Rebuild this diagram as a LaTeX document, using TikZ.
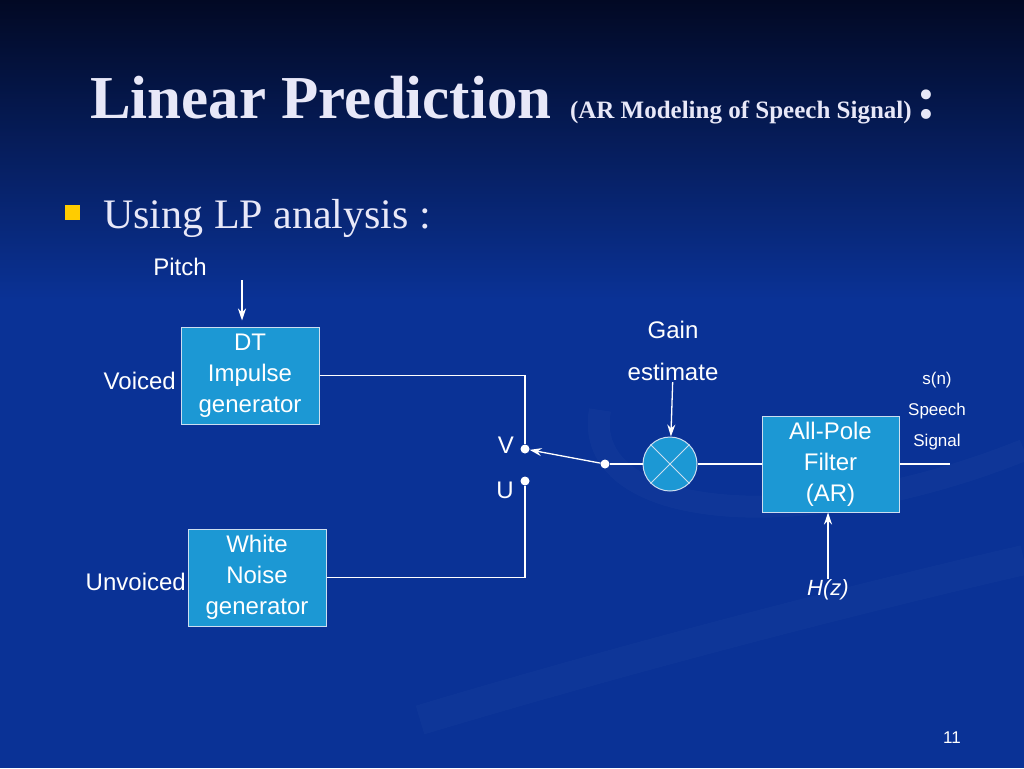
\documentclass[tikz,border=0pt]{standalone}
\usepackage{fontspec}
\setmainfont{Liberation Serif}
\setsansfont{Liberation Sans}
\usetikzlibrary{positioning,arrows.meta}

\definecolor{slidetop}{RGB}{2,9,36}
\definecolor{slidebody}{RGB}{10,50,150}
\definecolor{boxfill}{RGB}{28,152,212}
\definecolor{boxline}{RGB}{205,222,240}
\definecolor{titlecol}{RGB}{232,232,248}
\definecolor{bulletcol}{RGB}{255,204,0}

\begin{document}
\begin{tikzpicture}[x=1pt,y=-1pt,
					block/.style={draw=boxline,fill=boxfill,line width=1pt,
					              minimum width=138pt,minimum height=97pt,
					              inner sep=0pt,align=center,text=white,
					              font=\sffamily\fontsize{24}{31}\selectfont,
					              execute at begin node={\vspace*{8pt}}},
					label text/.style={text=white,inner sep=1pt,
					              font=\sffamily\fontsize{24}{31}\selectfont},
					small text/.style={text=white,inner sep=1pt,
					              font=\sffamily\fontsize{17}{20}\selectfont},
					wire/.style={draw=white,line width=1.3pt},
					sig/.style={wire,-{Stealth[length=12pt,width=8pt]}},
					dot/.style={circle,fill=white,inner sep=0pt,minimum size=9pt}]

  % slide background
  \useasboundingbox (0,0) rectangle (1024,768);
  \fill[top color=slidetop,bottom color=slidebody] (0,0) rectangle (1024,300);
  \fill[slidebody] (0,300) rectangle (1024,768);
  \draw[white,opacity=0.025,line width=22pt]
    (600,410) .. controls (580,520) and (800,540) .. (1024,450);
  \draw[white,opacity=0.02,line width=30pt]
    (420,720) .. controls (620,660) and (850,600) .. (1024,560);

  % title
  \node[anchor=base west,inner sep=0pt,text=titlecol,
        font=\bfseries\fontsize{61}{61}\selectfont] (title) at (90,118) {Linear Prediction};
  \node[anchor=base west,inner sep=0pt,text=titlecol,
        font=\bfseries\fontsize{25}{25}\selectfont] (subtitle)
        at ([xshift=18pt]title.base east) {(AR Modeling of Speech Signal)};
  \node[anchor=base west,inner sep=0pt,text=titlecol,
        font=\bfseries\fontsize{61}{61}\selectfont] (colon)
        at ([xshift=4pt]subtitle.base east) {:};

  \node[fill=bulletcol,minimum size=15pt,inner sep=0pt] (bullet) at (72.5,212.5) {};
  \node[anchor=base west,inner sep=0pt,text=titlecol,
        font=\fontsize{42}{42}\selectfont] (using) at (103,228) {Using LP analysis :};

  % blocks
  \node[block] (dt) at (250,375.5) {DT\\Impulse\\generator};
  \node[block] (wn) at (257,577.5) {White\\Noise\\generator};
  \node[block,minimum width=137pt,minimum height=96pt] (ap) at (830.5,464) {All-Pole\\Filter\\(AR)};
  \node[circle,draw=boxline,fill=boxfill,line width=1pt,minimum size=54pt] (mul) at (670,464) {};
  \draw[boxline,line width=1pt] (mul.45) -- (mul.225) (mul.135) -- (mul.-45);

  % labels
  \node[label text] (pitch) at (180,267) {Pitch};
  \node[label text,anchor=east] (voiced) at (177,381) {Voiced};
  \node[label text,anchor=east] (unvoiced) at (187,582) {Unvoiced};
  \node[label text] (gain) at (673,330) {Gain};
  \node[label text] (estimate) at (673,372) {estimate};
  \node[small text] (sn) at (937,380) {s(n)};
  \node[small text] (speech) at (937,411) {Speech};
  \node[small text] (signal) at (937,442) {Signal};
  \node[label text,font=\sffamily\itshape\fontsize{22}{26}\selectfont] (hz) at (828,590) {H(z)};
  \node[small text] (page) at (952,738) {11};

  % switch
  \node[dot] (vdot) at (525,449) {};
  \node[dot] (udot) at (525,481) {};
  \node[dot] (sw) at (605,464) {};
  \node[label text,anchor=east] (vlab) at (515,445) {V};
  \node[label text,anchor=east] (ulab) at (515,490) {U};
  \coordinate (pitchin) at (242,280);
  \coordinate (out) at (950,464);

  % connectors
  \draw[sig,shorten >=6pt] (pitchin) -- (pitchin |- dt.north);
  \draw[wire] (dt.east) -| (vdot);
  \draw[wire] (wn.east) -| (udot);
  \draw[sig] (sw) -- (vdot);
  \draw[wire] (sw) -- (mul);
  \draw[sig] (estimate) -- (mul);
  \draw[wire] (mul) -- (ap);
  \draw[wire] (ap) -- (out);
  \draw[sig] (hz.north) -- (hz.north |- ap.south);
\end{tikzpicture}
\end{document}
